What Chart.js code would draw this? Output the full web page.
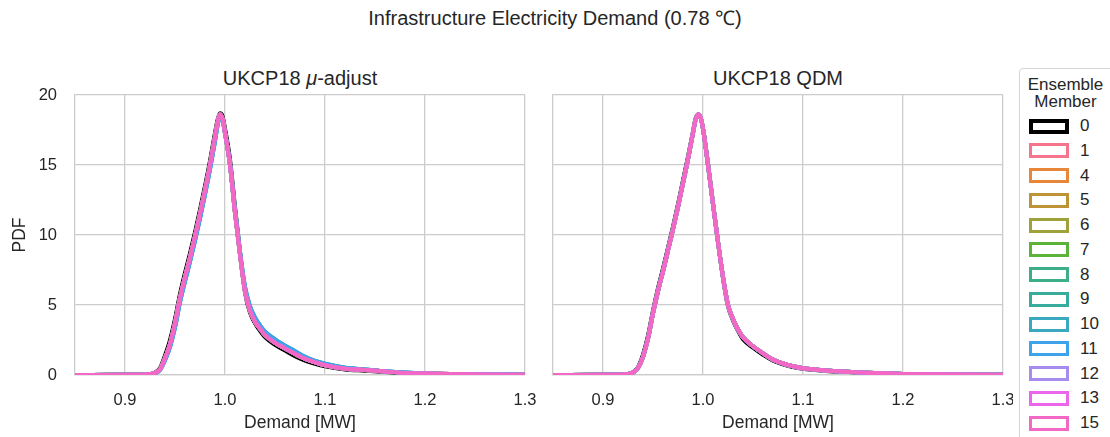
<!DOCTYPE html>
<html>
<head>
<meta charset="utf-8">
<script src="https://cdn.jsdelivr.net/npm/chart.js@4.4.1/dist/chart.umd.min.js"></script>
<style>
  body { margin: 0; width: 1110px; height: 437px; overflow: hidden; background: #fff;
         font-family: "Liberation Sans", Arial, sans-serif; color: #262626; position: relative; }
  #suptitle { position: absolute; left: 0; width: 1110px; top: 5px; line-height: 26px; text-align: center; font-size: 20px; }
  .ptitle { position: absolute; top: 66px; width: 450px; line-height: 24px; text-align: center; font-size: 20px; }
  .box { position: absolute; top: 85px; height: 352px; }
  #boxL { left: 0; width: 540px; }
  #boxR { left: 543px; width: 470px; }
  #legend { position: absolute; left: 1019px; top: 68px; width: 110px; height: 400px;
            border: 1px solid #d6d6d6; border-radius: 4px; box-sizing: border-box; }
  #legend .ttl { position: absolute; left: 0; width: 91px; top: 7px; text-align: center;
                 font-size: 17px; line-height: 17px; }
  #legend .sw { position: absolute; left: 9px; width: 40px; height: 15px; box-sizing: border-box; border: 3px solid; }
  #legend .lb { position: absolute; left: 60px; font-size: 17px; line-height: 18px; }
</style>
</head>
<body>
<div id="suptitle">Infrastructure Electricity Demand (0.78 ℃)</div>
<div class="ptitle" style="left:75px">UKCP18 <i>μ</i>-adjust</div>
<div class="ptitle" style="left:553px">UKCP18 QDM</div>
<div class="box" id="boxL"><canvas id="left"></canvas></div>
<div class="box" id="boxR"><canvas id="right"></canvas></div>
<div id="legend"></div>
<script>
// ensemble members shown in the legend and their colours
const members = [0, 1, 4, 5, 6, 7, 8, 9, 10, 11, 12, 13, 15];
const colors = ['#000000', '#f7758c', '#e8873a', '#bd9336', '#9fa23a', '#5cb33a', '#3daf86',
                '#37ab9c', '#3aa9bf', '#3ea3ea', '#a78cf0', '#ec66ec', '#f268c4'];

const demandBins = [0.85, 0.90, 0.915, 0.925, 0.93, 0.935, 0.94, 0.945, 0.95, 0.955,
                    0.96, 0.965, 0.97, 0.975, 0.98, 0.985, 0.99, 0.9925, 0.995, 0.9975,
                    1.0, 1.005, 1.01, 1.015, 1.02, 1.025, 1.03, 1.035, 1.04, 1.05,
                    1.06, 1.07, 1.08, 1.09, 1.10, 1.12, 1.14, 1.16, 1.18, 1.20, 1.25, 1.30];

// UKCP18 mu-adjust
const muMember0 = [0, 0.01, 0.02, 0.07, 0.18, 0.5, 1.4, 2.5, 4.0, 5.8,
                   7.3, 8.7, 10.2, 11.8, 13.5, 15.3, 17.3, 18.2, 18.7, 18.5,
                   17.6, 15.4, 12.0, 8.8, 5.9, 4.45, 3.7, 3.15, 2.7, 2.15,
                   1.75, 1.35, 1.03, 0.8, 0.62, 0.4, 0.31, 0.21, 0.13, 0.09, 0.03, 0.01];
const muCore = [0, 0.01, 0.02, 0.06, 0.15, 0.4, 1.2, 2.2, 3.7, 5.5,
                7.0, 8.4, 9.9, 11.5, 13.2, 15.0, 17.0, 18.0, 18.6, 18.3,
                17.3, 15.0, 11.6, 8.6, 6.0, 4.6, 3.8, 3.3, 2.85, 2.3,
                1.9, 1.5, 1.15, 0.9, 0.7, 0.45, 0.36, 0.25, 0.15, 0.1, 0.04, 0.02];
const muWideTail = [0, 0.01, 0.02, 0.05, 0.13, 0.35, 1.05, 2.0, 3.4, 5.2,
                    6.7, 8.1, 9.6, 11.2, 12.9, 14.7, 16.7, 17.8, 18.4, 18.2,
                    17.3, 15.1, 11.8, 8.8, 6.3, 4.9, 4.1, 3.55, 3.1, 2.55,
                    2.1, 1.7, 1.3, 1.0, 0.8, 0.52, 0.4, 0.27, 0.17, 0.11, 0.05, 0.02];
const muWideTailMembers = [9, 10, 11];

// UKCP18 QDM
const qdmMember0 = [0, 0.01, 0.02, 0.08, 0.2, 0.56, 1.45, 2.8, 4.6, 6.2,
                    7.6, 9.1, 10.6, 12.2, 13.9, 15.6, 17.4, 18.3, 18.6, 18.4,
                    17.6, 15.1, 12.3, 9.5, 6.9, 4.9, 3.9, 3.15, 2.55, 1.95,
                    1.45, 1.02, 0.76, 0.57, 0.44, 0.31, 0.23, 0.16, 0.11, 0.07, 0.03, 0.01];
const qdmCore = [0, 0.01, 0.02, 0.07, 0.18, 0.5, 1.3, 2.6, 4.4, 6.0,
                 7.4, 8.9, 10.4, 12.0, 13.7, 15.4, 17.3, 18.2, 18.6, 18.4,
                 17.6, 15.0, 12.2, 9.5, 7.0, 5.0, 4.0, 3.25, 2.7, 2.05,
                 1.55, 1.1, 0.82, 0.62, 0.48, 0.34, 0.25, 0.17, 0.12, 0.08, 0.03, 0.01];

const xTicks = [0.9, 1.0, 1.1, 1.2, 1.3];
const yTicks = [0, 5, 10, 15, 20];

const grid = '#cccccc';
const family = '"Liberation Sans", Arial, sans-serif';

function makeChart(id, curveFor, showY) {
  const datasets = members.map((m, i) => ({
    label: String(m),
    data: demandBins.map((x, j) => ({ x: x, y: curveFor(m)[j] })),
    borderColor: colors[i],
    borderWidth: 4,
    pointRadius: 0,
    cubicInterpolationMode: 'monotone',
    fill: false,
    order: members.length - i
  }));
  return new Chart(document.getElementById(id), {
    type: 'line',
    data: { datasets },
    options: {
      responsive: true,
      maintainAspectRatio: false,
      animation: false,
      layout: { padding: { top: 10, right: showY ? 15 : 10, left: 0, bottom: 0 } },
      plugins: { legend: { display: false }, tooltip: { enabled: false } },
      scales: {
        x: {
          type: 'linear', min: 0.85, max: 1.3,
          afterBuildTicks: s => { s.ticks = xTicks.map(v => ({ value: v })); },
          afterFit: s => { s.height = 62; s.paddingLeft = 0; s.paddingRight = 0; },
          grid: { color: grid, lineWidth: 1.3, drawTicks: false },
          border: { color: grid, width: 1.3 },
          ticks: { color: '#262626', font: { family, size: 16.5 }, padding: 16, maxRotation: 0,
                   callback: v => v.toFixed(1) },
          title: { display: true, text: 'Demand [MW]', color: '#262626',
                   font: { family, size: 17.5 }, padding: { top: 0, bottom: 3 } }
        },
        y: {
          min: 0, max: 20,
          afterBuildTicks: s => { s.ticks = yTicks.map(v => ({ value: v })); },
          afterFit: s => { s.width = showY ? 75 : 10; s.paddingTop = 0; s.paddingBottom = 0; },
          grid: { color: grid, lineWidth: 1.3, drawTicks: false },
          border: { color: grid, width: 1.3 },
          ticks: { display: showY, color: '#262626', font: { family, size: 16.5 }, padding: 18 },
          title: { display: showY, text: 'PDF', color: '#262626',
                   font: { family, size: 17.5 }, padding: { top: 10, bottom: 0 } }
        }
      }
    }
  });
}

makeChart('left', m => m === 0 ? muMember0 : (muWideTailMembers.includes(m) ? muWideTail : muCore), true);
makeChart('right', m => m === 0 ? qdmMember0 : qdmCore, false);

// legend box
const lg = document.getElementById('legend');
lg.innerHTML = '<div class="ttl">Ensemble<br>Member</div>';
members.forEach((m, i) => {
  const cy = 126 - 68 + i * 24.75;
  const sw = document.createElement('div');
  sw.className = 'sw';
  sw.style.top = (cy - 7.5 - 1) + 'px';
  sw.style.borderColor = colors[i];
  if (m === 0) sw.style.borderWidth = '4px';
  lg.appendChild(sw);
  const lb = document.createElement('div');
  lb.className = 'lb';
  lb.style.top = (cy - 9 - 1) + 'px';
  lb.textContent = m;
  lg.appendChild(lb);
});
</script>
</body>
</html>
